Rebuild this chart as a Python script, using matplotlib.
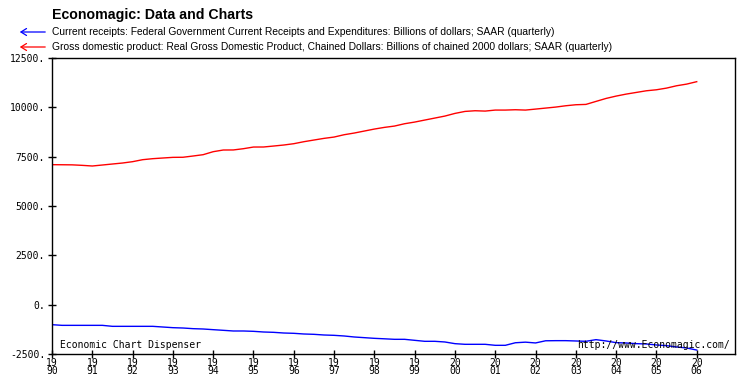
import matplotlib
matplotlib.use("Agg")
import matplotlib.pyplot as plt
import numpy as np

# Quarterly data 1990Q1 - 2006Q1
start_year = 1990
gdp = [7094, 7090, 7085, 7060, 7027, 7077, 7128, 7178,
       7246, 7347, 7398, 7432, 7465, 7470, 7533, 7600,
       7752, 7837, 7840, 7904, 7988, 7990, 8039, 8090,
       8157, 8258, 8343, 8427, 8494, 8612, 8697, 8798,
       8899, 8984, 9051, 9169, 9253, 9355, 9456, 9557,
       9692, 9793, 9827, 9810, 9861, 9861, 9878, 9861,
       9911, 9962, 10013, 10080, 10131, 10148, 10300, 10451,
       10570, 10671, 10755, 10839, 10890, 10974, 11093, 11177,
       11300]
receipts = [-1014, -1048, -1048, -1048, -1048, -1048, -1098, -1098,
            -1098, -1098, -1098, -1132, -1166, -1183, -1216, -1233,
            -1267, -1300, -1334, -1334, -1351, -1385, -1402, -1436,
            -1452, -1486, -1503, -1537, -1554, -1587, -1638, -1672,
            -1706, -1730, -1756, -1756, -1807, -1857, -1857, -1891,
            -1976, -2009, -2009, -2009, -2060, -2060, -1930, -1900,
            -1940, -1830, -1824, -1824, -1840, -1857, -1773, -1840,
            -1925, -1942, -1976, -1992, -2043, -2077, -2144, -2195,
            -2300]
yticks = [-2500, 0, 2500, 5000, 7500, 10000, 12500]
ytick_labels = ["-2500.", "0.", "2500.", "5000.", "7500.", "10000.", "12500."]
xtick_years = list(range(1990, 2007))

title = "Economagic: Data and Charts"
legend_labels = [
    "Current receipts: Federal Government Current Receipts and Expenditures: Billions of dollars; SAAR (quarterly)",
    "Gross domestic product: Real Gross Domestic Product, Chained Dollars: Billions of chained 2000 dollars; SAAR (quarterly)",
]

t = start_year + np.arange(len(gdp)) / 4.0

fig = plt.figure(figsize=(7.5, 3.75), dpi=100)
ax = fig.add_axes([52/750, 1-354/375, (735-52)/750, (354-58)/375])
ax.plot(t, receipts, color="#0000ff", lw=1.0)
ax.plot(t, gdp, color="#ff0000", lw=1.0)
ax.set_xlim(1990, 2006.95)
ax.set_ylim(-2500, 12500)

mono = "DejaVu Sans Mono"
ax.set_yticks(yticks)
ax.set_yticklabels(ytick_labels, fontsize=7, family=mono)
ax.set_xticks(xtick_years)
ax.set_xticklabels([f"{str(y)[:2]}\n{str(y)[2:]}" for y in xtick_years],
                   fontsize=7, family=mono, linespacing=0.72)
ax.tick_params(axis="y", direction="inout", length=6, width=1, pad=2)
ax.tick_params(axis="x", direction="inout", length=6, width=1, pad=0)
for s in ax.spines.values():
    s.set_linewidth(1)

ax.text(60/750, 1-345/375, "Economic Chart Dispenser", transform=fig.transFigure,
        fontsize=7, family=mono, va="center", ha="left")
ax.text(730/750, 1-345/375, "http://www.Economagic.com/", transform=fig.transFigure,
        fontsize=7, family=mono, va="center", ha="right")

fig.text(52/750, 1-15/375, title, fontsize=10.2, fontweight="bold",
         family="Liberation Sans", va="center", ha="left")
for i, (lab, col) in enumerate(zip(legend_labels, ["#0000ff", "#ff0000"])):
    yy = 1 - (32 + 15*i)/375
    fig.text(52/750, yy, lab, fontsize=7.4, family="Liberation Sans",
             va="center", ha="left")
    fig.patches.append(matplotlib.patches.FancyArrowPatch(
        (48/750, yy), (17/750, yy), transform=fig.transFigure,
        arrowstyle="->,head_length=4,head_width=2.5", color=col, lw=0.9,
        mutation_scale=1))

fig.savefig("out.png", dpi=100, facecolor="white")
